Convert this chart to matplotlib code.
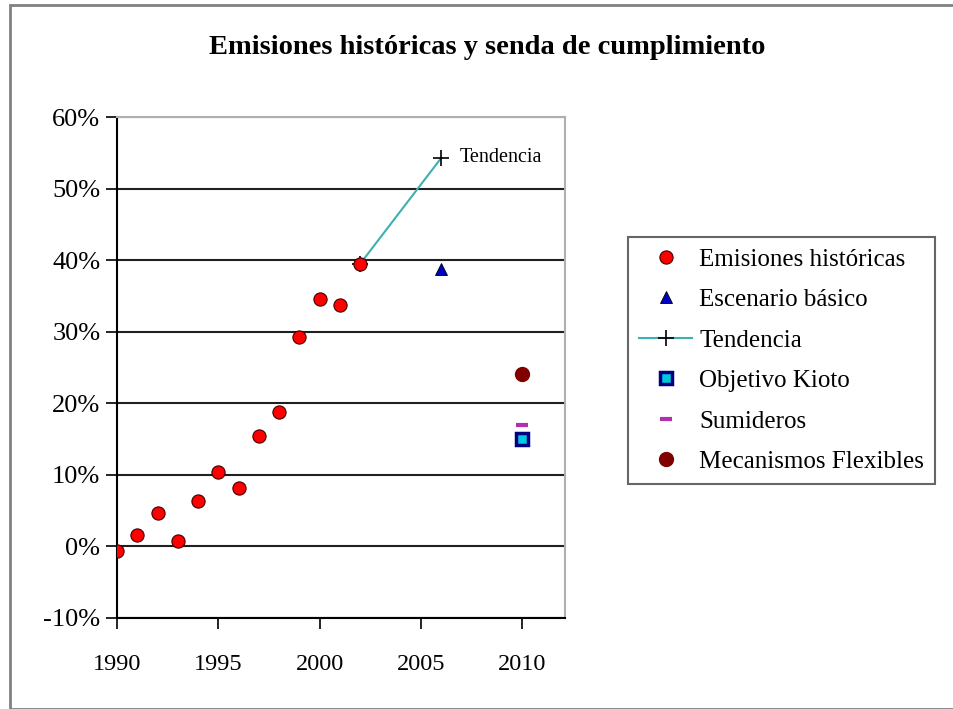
import matplotlib.pyplot as plt
from matplotlib.patches import Rectangle
from matplotlib.ticker import FuncFormatter

plt.rcParams['font.family'] = ['Liberation Serif', 'DejaVu Serif']

# Historical emissions (% change vs 1990)
years = [1990, 1991, 1992, 1993, 1994, 1995, 1996, 1997, 1998, 1999, 2000, 2001, 2002]
emisiones = [-0.7, 1.6, 4.7, 0.8, 6.3, 10.4, 8.2, 15.4, 18.8, 29.3, 34.6, 33.7, 39.5]

# Projections
escenario_x = [2006]
escenario_y = [38.8]
tendencia_x = [2002, 2006]
tendencia_y = [39.5, 54.3]
kioto_x = [2010]
kioto_y = [15.0]
sumideros_x = [2010]
sumideros_y = [16.9]
flexibles_x = [2010]
flexibles_y = [24.1]

fig = plt.figure(figsize=(9.54, 7.09), dpi=100)
W, H = 954, 709
ax = fig.add_axes([117 / W, 1 - 618 / H, 448 / W, 501 / H])

ax.plot(years, emisiones, 'o', color='red', markeredgecolor='#400000',
        markeredgewidth=0.8, markersize=9.5, label='Emisiones históricas', zorder=4)
ax.plot(escenario_x, escenario_y, '^', color='#0000c0', markeredgecolor='black',
        markeredgewidth=0.6, markersize=8, label='Escenario básico', zorder=4)
ax.plot(tendencia_x, tendencia_y, '-', color='#3fb0b0', linewidth=1.5, marker='+',
        markeredgecolor='black', markersize=11, markeredgewidth=1.2,
        label='Tendencia', zorder=3)
ax.plot(kioto_x, kioto_y, 's', color='#00c8e0', markeredgecolor='#000080',
        markeredgewidth=2.5, markersize=9, label='Objetivo Kioto', zorder=4)
ax.plot(sumideros_x, sumideros_y, '_', color='#b030b0', markeredgewidth=3,
        markersize=9, label='Sumideros', zorder=4)
ax.plot(flexibles_x, flexibles_y, 'o', color='#800000', markeredgecolor='#800000',
        markersize=10, label='Mecanismos Flexibles', zorder=4)

ax.annotate('Tendencia', (tendencia_x[-1], tendencia_y[-1]), xytext=(13, 0),
            textcoords='offset points', va='center', ha='left', fontsize=14.5)

ax.set_xlim(1990, 2012.1)
ax.set_ylim(-10, 60)
ax.set_xticks([1990, 1995, 2000, 2005, 2010])
ax.set_yticks(range(-10, 61, 10))
ax.yaxis.set_major_formatter(FuncFormatter(lambda v, p: f'{v:.0f}%'))
ax.tick_params(axis='both', direction='out', length=8, width=1.2, labelsize=19)
ax.tick_params(axis='y', pad=4)
ax.tick_params(axis='x', pad=18, labelsize=17.5)
ax.yaxis.grid(True, color='#202020', linewidth=1.5)
ax.set_axisbelow(True)
for side in ['top', 'right']:
    ax.spines[side].set_color('#b0b0b0')
    ax.spines[side].set_linewidth(1.5)
for side in ['left', 'bottom']:
    ax.spines[side].set_color('black')
    ax.spines[side].set_linewidth(1.5)

fig.suptitle('Emisiones históricas y senda de cumplimiento', fontweight='bold',
             fontsize=20.5, x=487 / W, y=1 - 48 / H, va='center')

leg = fig.legend(loc='upper left', bbox_to_anchor=(628 / W, 1 - 237 / H), fontsize=18,
                 frameon=True, fancybox=False, edgecolor='#404040', borderpad=0.45,
                 borderaxespad=0, labelspacing=0.72, handlelength=2.1,
                 handletextpad=0.3, numpoints=1)
leg.get_frame().set_linewidth(1.5)

fig.patches.append(Rectangle((10 / W, 0), 1, 1 - 5 / H, transform=fig.transFigure,
                             fill=False, edgecolor='#808080', linewidth=2))

fig.savefig('out.png', dpi=100)
